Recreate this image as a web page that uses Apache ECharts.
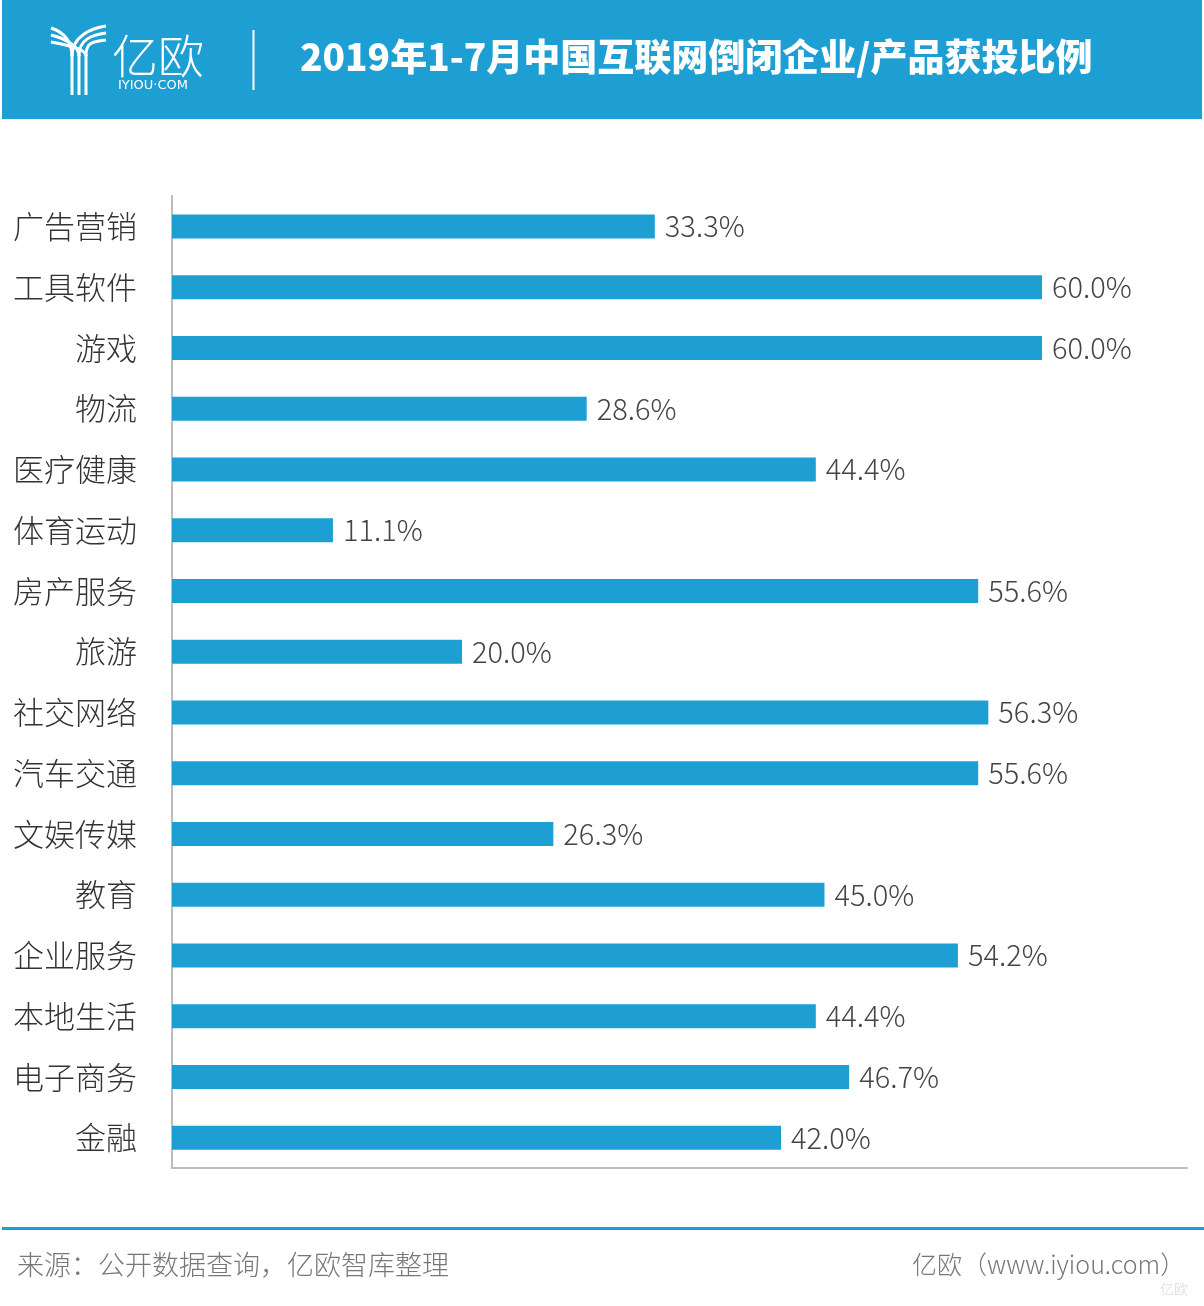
<!DOCTYPE html>
<html><head><meta charset="utf-8">
<script src="https://cdn.jsdelivr.net/npm/echarts@6/dist/echarts.min.js"></script>
<style>html,body{margin:0;padding:0;background:#fff}#c{width:1204px;height:1306px}</style>
</head><body><div id="c"></div>
<script>
const categories = ['广告营销','工具软件','游戏','物流','医疗健康','体育运动','房产服务','旅游','社交网络','汽车交通','文娱传媒','教育','企业服务','本地生活','电子商务','金融'];
const values = [33.3,60.0,60.0,28.6,44.4,11.1,55.6,20.0,56.3,55.6,26.3,45.0,54.2,44.4,46.7,42.0];
const titleText = '2019年1-7月中国互联网倒闭企业/产品获投比例';
const sourceText = '来源：公开数据查询，亿欧智库整理';
const siteText = '亿欧（www.iyiou.com）';

const BLUE = '#1e9fd4';
const FONT = '"Noto Sans CJK SC","Noto Sans",sans-serif';
const chart = echarts.init(document.getElementById('c'), null, {renderer:'canvas'});

function logoCurves(){
  const els = [];
  for (let i=0;i<3;i++){
    const x = 72 + i*7;
    els.push({type:'line', shape:{x1:x,y1:55,x2:x,y2:95}, style:{stroke:'#fff',lineWidth:3}});
  }
  for (let i=0;i<3;i++){
    els.push({type:'bezierCurve', shape:{x1:51,y1:28+i*7, cpx1:64-i*1,cpy1:32+i*6, cpx2:72+i*7,cpy2:42+i*3, x2:72+i*7,y2:56}, style:{stroke:'#fff',lineWidth:3,fill:null}});
  }
  for (let i=0;i<3;i++){
    els.push({type:'bezierCurve', shape:{x1:106,y1:26+i*7, cpx1:92,cpy1:28+i*7, cpx2:72+i*7,cpy2:36+i*3, x2:72+i*7,y2:56}, style:{stroke:'#fff',lineWidth:3,fill:null}});
  }
  return els;
}

const option = {
  animation:false,
  backgroundColor:'#fff',
  grid:{left:172, right:17, top:196, bottom:138, containLabel:false},
  xAxis:{type:'value', min:0, max:70, axisLabel:{show:false}, splitLine:{show:false}, axisTick:{show:false},
    axisLine:{show:true, lineStyle:{color:'#bdbdbd', width:2}}},
  yAxis:{type:'category', inverse:true, data:categories, axisTick:{show:false},
    axisLine:{show:true, lineStyle:{color:'#bdbdbd', width:2}},
    axisLabel:{color:'#333', fontSize:31, fontFamily:FONT, fontWeight:300, margin:35}},
  series:[{type:'bar', data:values, barWidth:24, itemStyle:{color:BLUE},
    label:{show:true, position:'right', distance:10, color:'#444', fontSize:29, fontFamily:FONT, fontWeight:300,
      formatter:p=>p.value.toFixed(1)+'%'}}],
  graphic:[
    {type:'rect', shape:{x:2,y:0,width:1200,height:119}, style:{fill:BLUE}, z:-1},
    ...logoCurves(),
    {type:'text', left:112, top:33, style:{text:'亿欧', fill:'#fff', font:'300 46px '+FONT}},
    {type:'text', left:118, top:79, style:{text:'IYIOU·COM', fill:'#fff', font:'13px "DejaVu Sans",sans-serif'}},
    {type:'line', shape:{x1:253.5,y1:30,x2:253.5,y2:90}, style:{stroke:'#fff',lineWidth:2}},
    {type:'text', left:300, top:38, style:{text:titleText, fill:'#fff', font:'900 37px '+FONT}},
    {type:'rect', shape:{x:2,y:1227,width:1202,height:3}, style:{fill:BLUE}},
    {type:'text', left:17, top:1251, style:{text:sourceText, fill:'#777', font:'300 27px '+FONT}},
    {type:'text', left:912, top:1252, style:{text:siteText, fill:'#777', font:'300 25px '+FONT}},
    {type:'text', left:1160, top:1282, style:{text:'亿欧', fill:'#e4e4e4', font:'14px '+FONT}}
  ]
};
chart.setOption(option);
</script></body></html>
